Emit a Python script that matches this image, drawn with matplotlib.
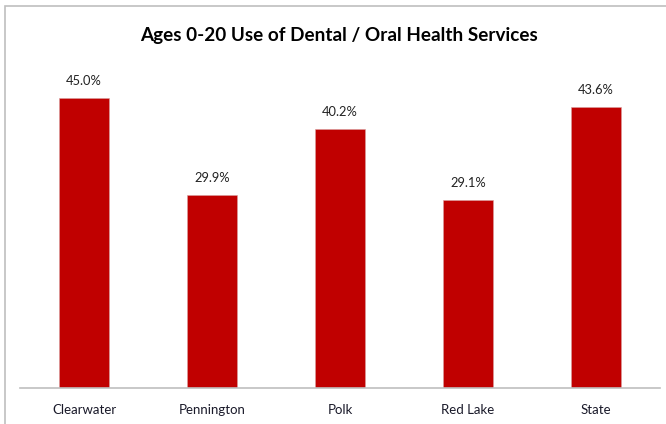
import matplotlib.pyplot as plt
from matplotlib.patches import Rectangle

counties = ["Clearwater", "Pennington", "Polk", "Red Lake", "State"]
pct = [45.0, 29.9, 40.2, 29.1, 43.6]

plt.rcParams['font.family'] = ['Lato', 'DejaVu Sans']

fig = plt.figure(figsize=(6.66, 4.24), dpi=100)
# frame around chart (cropped at right/bottom)
fig.patches.append(Rectangle((5/666, -0.1), 1.2, (424-6)/424 + 0.1, transform=fig.transFigure,
                             fill=False, edgecolor='#bfbfbf', lw=1.2))

ax = fig.add_axes([20/666, 1 - 387.5/424, 640/666, 321.5/424])
x = range(len(counties))
ax.bar(x, pct, width=0.39, color='#c00000', edgecolor='#d9a0a0', linewidth=0.4)
for i, v in zip(x, pct):
    ax.text(i, v + 1.7, "%.1f%%" % v, ha='center', va='bottom', fontsize=9.3, color='#222222')

ax.set_xlim(-0.5, len(counties) - 0.5)
ax.set_ylim(0, 50)
ax.set_xticks(list(x))
ax.set_xticklabels(counties, fontsize=9.5, color='#1a1a2a')
ax.tick_params(axis='x', length=0, pad=12)
ax.set_yticks([])
for s in ['top', 'right', 'left']:
    ax.spines[s].set_visible(False)
ax.spines['bottom'].set_color('#bfbfbf')
ax.spines['bottom'].set_linewidth(1.2)

fig.text(339/666, 1 - 35/424, "Ages 0-20 Use of Dental / Oral Health Services",
         ha='center', va='center', fontsize=13.6, fontweight='bold', color='black')

fig.savefig("out.png", dpi=100)
